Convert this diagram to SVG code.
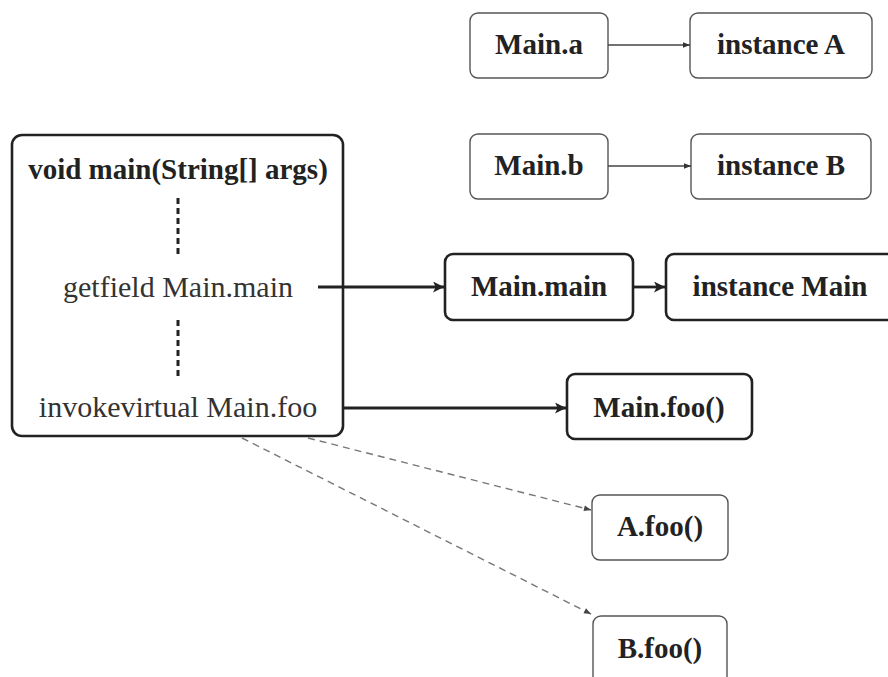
<svg xmlns="http://www.w3.org/2000/svg" width="888" height="677" viewBox="0 0 888 677">
  <style>
    .thin { fill: #fff; stroke: #555; stroke-width: 1.4; }
    .thick { fill: #fff; stroke: #222; stroke-width: 2.6; }
    text { font-family: 'Liberation Serif', 'Times New Roman', serif; text-anchor: middle; }
    .bold { font-weight: bold; font-size: 29px; fill: #222; }
    .reg { font-weight: normal; font-size: 30px; fill: #333; }
    .edge-thin { stroke: #444; stroke-width: 1.3; fill: none; }
    .edge-thick { stroke: #222; stroke-width: 2.8; fill: none; }
    .edge-dash { stroke: #777; stroke-width: 1.4; stroke-dasharray: 7 5; fill: none; }
    .elide { stroke: #222; stroke-width: 3; stroke-dasharray: 6 4; fill: none; }
  </style>
  <defs>
    <marker id="headSmall" viewBox="0 0 10 10" refX="10" refY="5" markerWidth="7" markerHeight="7" markerUnits="userSpaceOnUse" orient="auto">
      <path d="M0,1 L10,5 L0,9 z" fill="#333"/>
    </marker>
    <marker id="headBig" viewBox="0 0 10 10" refX="10" refY="5" markerWidth="13" markerHeight="11" markerUnits="userSpaceOnUse" orient="auto">
      <path d="M0,0 L10,5 L0,10 L2.5,5 z" fill="#222"/>
    </marker>
    <marker id="headDash" viewBox="0 0 10 10" refX="10" refY="5" markerWidth="8" markerHeight="7" markerUnits="userSpaceOnUse" orient="auto">
      <path d="M0,1 L10,5 L0,9 z" fill="#444"/>
    </marker>
  </defs>

  <rect width="888" height="677" fill="#fff"/>

  <!-- method body -->
  <g id="main-method">
    <rect class="thick" x="12" y="135" width="331" height="301" rx="10"/>
    <text class="bold" x="178" y="179">void main(String[] args)</text>
    <line class="elide" x1="178" y1="198" x2="178" y2="256"/>
    <text class="reg" x="178" y="297">getfield Main.main</text>
    <line class="elide" x1="178" y1="320" x2="178" y2="376"/>
    <text class="reg" x="178" y="417">invokevirtual Main.foo</text>
  </g>

  <g id="main-a">
    <rect class="thin" x="470" y="13" width="138" height="65" rx="8"/>
    <text class="bold" x="539" y="54">Main.a</text>
  </g>
  <g id="instance-a">
    <rect class="thin" x="690" y="13" width="182" height="65" rx="8"/>
    <text class="bold" x="781" y="54">instance A</text>
  </g>
  <g id="main-b">
    <rect class="thin" x="470" y="134" width="138" height="65" rx="8"/>
    <text class="bold" x="539" y="175">Main.b</text>
  </g>
  <g id="instance-b">
    <rect class="thin" x="691" y="134" width="180" height="65" rx="8"/>
    <text class="bold" x="781" y="175">instance B</text>
  </g>
  <g id="main-main">
    <rect class="thick" x="445" y="254" width="188" height="66" rx="8"/>
    <text class="bold" x="539" y="296">Main.main</text>
  </g>
  <g id="instance-main">
    <rect class="thick" x="666" y="254" width="240" height="66" rx="8"/>
    <text class="bold" x="780" y="296">instance Main</text>
  </g>
  <g id="main-foo">
    <rect class="thick" x="567" y="374" width="185" height="65" rx="8"/>
    <text class="bold" x="659" y="417">Main.foo()</text>
  </g>
  <g id="a-foo">
    <rect class="thin" x="592" y="495" width="136" height="65" rx="8"/>
    <text class="bold" x="660" y="536">A.foo()</text>
  </g>
  <g id="b-foo">
    <rect class="thin" x="593" y="616" width="134" height="70" rx="8"/>
    <text class="bold" x="660" y="658">B.foo()</text>
  </g>

  <!-- connectors, drawn last so the field access line crosses the method border -->
  <g id="connectors">
    <line class="edge-thin" x1="608" y1="45" x2="690" y2="45" marker-end="url(#headSmall)"/>
    <line class="edge-thin" x1="608" y1="166" x2="691" y2="166" marker-end="url(#headSmall)"/>
    <line class="edge-thick" x1="318" y1="287" x2="444" y2="287" marker-end="url(#headBig)"/>
    <line class="edge-thick" x1="633" y1="287" x2="665" y2="287" marker-end="url(#headBig)"/>
    <line class="edge-thick" x1="343" y1="408" x2="566" y2="408" marker-end="url(#headBig)"/>
    <line class="edge-dash" x1="308" y1="438" x2="591" y2="510" marker-end="url(#headDash)"/>
    <line class="edge-dash" x1="242" y1="438" x2="591" y2="614" marker-end="url(#headDash)"/>
  </g>
</svg>
